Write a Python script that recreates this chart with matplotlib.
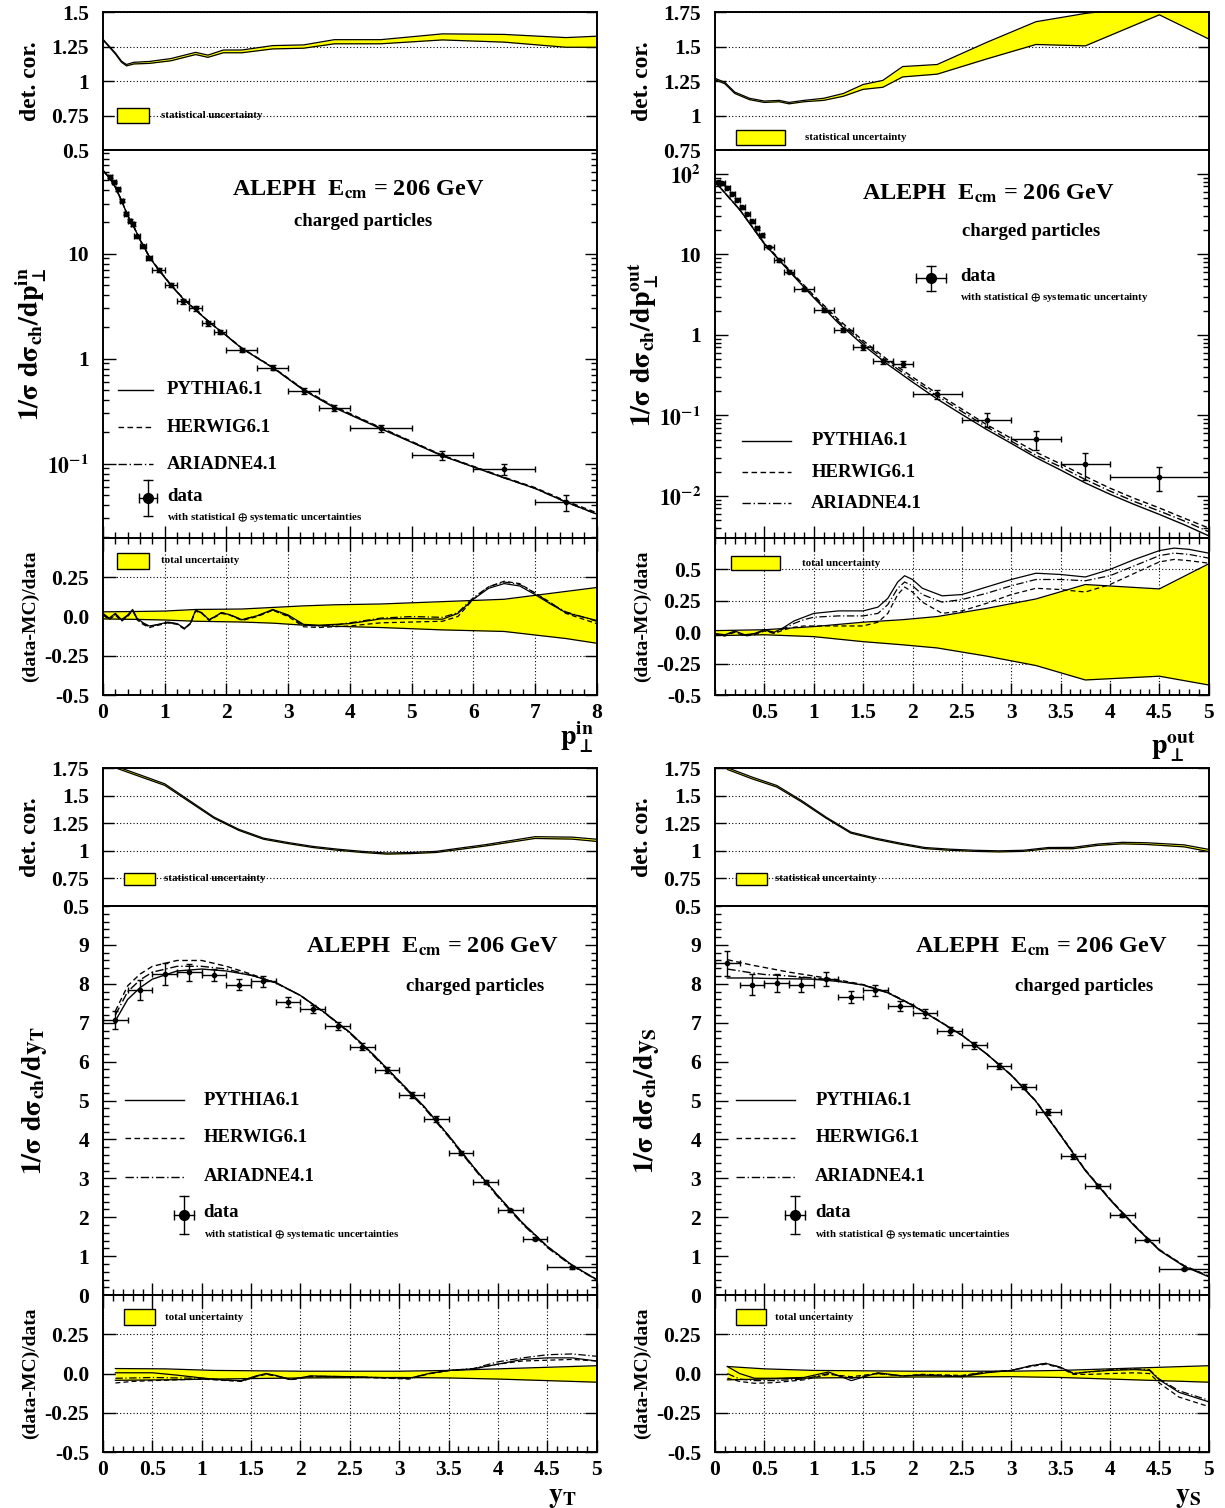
import numpy as np
import matplotlib
matplotlib.use("Agg")
import matplotlib.pyplot as plt
from matplotlib.patches import Rectangle
from matplotlib.ticker import MultipleLocator, LogLocator, NullFormatter

# ---------------- p_perp^in ----------------
pin_det_x = [0, 0.1, 0.2, 0.3, 0.38, 0.5, 0.75, 1.1, 1.5, 1.7, 1.95, 2.25, 2.75, 3.25, 3.75, 4.5, 5.5, 6.5, 7.5, 8.0]
pin_det_lo = [1.297, 1.247, 1.196, 1.136, 1.11, 1.124, 1.128, 1.147, 1.192, 1.172, 1.205, 1.205, 1.233, 1.238, 1.27, 1.27, 1.298, 1.282, 1.245, 1.245]
pin_det_hi = [1.303, 1.253, 1.204, 1.144, 1.12, 1.136, 1.142, 1.163, 1.208, 1.188, 1.225, 1.225, 1.257, 1.262, 1.30, 1.30, 1.342, 1.338, 1.315, 1.325]

pin_x = [0.11, 0.18, 0.24, 0.30, 0.37, 0.43, 0.48, 0.55, 0.65, 0.75, 0.9, 1.1, 1.3, 1.5, 1.7, 1.9, 2.25, 2.75, 3.25, 3.75, 4.5, 5.5, 6.5, 7.5]
pin_y = [54, 48, 41, 32, 24, 20.6, 19.2, 14.6, 11.7, 9.1, 7.0, 5.0, 3.5, 3.0, 2.16, 1.80, 1.21, 0.82, 0.49, 0.34, 0.216, 0.12, 0.088, 0.043]
pin_xerr = [0.03, 0.03, 0.03, 0.03, 0.03, 0.03, 0.03, 0.05, 0.05, 0.05, 0.1, 0.1, 0.1, 0.1, 0.1, 0.1, 0.25, 0.25, 0.25, 0.25, 0.5, 0.5, 0.5, 0.5]
pin_yerr = [1.5, 1.4, 1.2, 1.0, 0.8, 0.7, 0.7, 0.6, 0.5, 0.4, 0.3, 0.22, 0.16, 0.14, 0.1, 0.09, 0.06, 0.045, 0.03, 0.025, 0.016, 0.011, 0.01, 0.0075]

pin_mc_x = [0, 0.1, 0.2, 0.3, 0.4, 0.5, 0.6, 0.75, 0.9, 1.1, 1.3, 1.5, 1.75, 2.0, 2.25, 2.75, 3.25, 3.75, 4.5, 5.5, 6.5, 7.0, 7.5, 8.0]
pin_pythia = [62, 53, 43, 32, 23, 18, 13.5, 9.3, 7.0, 5.0, 3.7, 2.9, 2.15, 1.65, 1.25, 0.82, 0.50, 0.34, 0.215, 0.118, 0.073, 0.058, 0.043, 0.033]
pin_herwig = [62, 53, 43, 32, 23, 18, 13.6, 9.4, 7.1, 5.05, 3.75, 2.92, 2.16, 1.66, 1.26, 0.83, 0.51, 0.35, 0.22, 0.12, 0.074, 0.059, 0.044, 0.034]
pin_ariadne = [62, 53, 43, 32, 23, 18, 13.5, 9.35, 7.05, 5.02, 3.72, 2.91, 2.15, 1.65, 1.25, 0.82, 0.505, 0.345, 0.217, 0.119, 0.073, 0.058, 0.043, 0.033]

pin_band_x = [0, 0.5, 1, 1.5, 2.25, 2.75, 3.25, 3.75, 4.5, 5.5, 6.5, 7.5, 8]
pin_band_hi = [0.03, 0.032, 0.035, 0.045, 0.048, 0.058, 0.068, 0.075, 0.08, 0.095, 0.11, 0.16, 0.185]
pin_band_lo = [-0.015, -0.018, -0.022, -0.03, -0.035, -0.042, -0.055, -0.062, -0.07, -0.085, -0.095, -0.14, -0.17]

pin_r_x = [0, 0.1, 0.2, 0.3, 0.4, 0.48, 0.55, 0.65, 0.75, 0.9, 1.05, 1.2, 1.32, 1.42, 1.5, 1.6, 1.72, 1.92, 2.05, 2.25,
           2.5, 2.75, 3.0, 3.25, 3.5, 3.75, 4.0, 4.5, 5.0, 5.5, 5.75, 6.0, 6.25, 6.5, 6.75, 7.0, 7.25, 7.5, 8.0]
pin_r_pythia = [0.02, -0.01, 0.02, -0.02, 0.01, 0.045, -0.01, -0.04, -0.06, -0.05, -0.035, -0.045, -0.075, -0.04, 0.04, 0.025, -0.022, 0.025, 0.012, -0.02,
                0.005, 0.045, 0.01, -0.05, -0.055, -0.05, -0.045, -0.015, -0.012, -0.017, 0.02, 0.11, 0.18, 0.21, 0.195, 0.14, 0.08, 0.025, -0.025]
pin_r_herwig = [0.01, -0.02, 0.01, -0.03, 0.0, 0.04, -0.02, -0.05, -0.07, -0.055, -0.04, -0.05, -0.08, -0.045, 0.035, 0.02, -0.025, 0.02, 0.01, -0.025,
                0.0, 0.04, 0.0, -0.065, -0.07, -0.065, -0.06, -0.04, -0.035, -0.03, 0.0, 0.11, 0.19, 0.225, 0.21, 0.15, 0.09, 0.02, -0.045]
pin_r_ariadne = [0.015, -0.015, 0.015, -0.025, 0.005, 0.04, -0.015, -0.045, -0.065, -0.05, -0.04, -0.045, -0.078, -0.042, 0.04, 0.022, -0.02, 0.025, 0.012, -0.02,
                 0.005, 0.042, 0.005, -0.055, -0.06, -0.055, -0.04, -0.01, 0.0, -0.005, 0.025, 0.12, 0.19, 0.22, 0.205, 0.15, 0.085, 0.03, -0.03]

# ---------------- p_perp^out ----------------
pout_det_x = [0, 0.1, 0.2, 0.35, 0.5, 0.65, 0.75, 0.9, 1.1, 1.3, 1.5, 1.7, 1.9, 2.25, 2.75, 3.25, 3.75, 4.5, 5.0]
pout_det_lo = [1.26, 1.23, 1.16, 1.115, 1.095, 1.10, 1.085, 1.10, 1.11, 1.14, 1.19, 1.205, 1.28, 1.30, 1.41, 1.515, 1.505, 1.73, 1.555]
pout_det_hi = [1.27, 1.24, 1.17, 1.125, 1.105, 1.11, 1.095, 1.11, 1.125, 1.16, 1.225, 1.255, 1.355, 1.37, 1.53, 1.68, 1.74, 1.80, 1.85]

pout_x = [0.025, 0.075, 0.125, 0.175, 0.225, 0.275, 0.325, 0.375, 0.425, 0.475, 0.55, 0.65, 0.75, 0.9, 1.1, 1.3, 1.5, 1.7, 1.9, 2.25, 2.75, 3.25, 3.75, 4.5]
pout_y = [79, 76.7, 67.8, 56.7, 47.7, 38.4, 31.8, 25.8, 21.0, 17.2, 12.4, 8.5, 6.1, 3.7, 2.04, 1.15, 0.70, 0.47, 0.44, 0.183, 0.089, 0.051, 0.025, 0.0172]
pout_xerr = [0.025, 0.025, 0.025, 0.025, 0.025, 0.025, 0.025, 0.025, 0.025, 0.025, 0.05, 0.05, 0.05, 0.1, 0.1, 0.1, 0.1, 0.1, 0.1, 0.25, 0.25, 0.25, 0.25, 0.5]
pout_yerr = [3, 3, 2.7, 2.3, 1.9, 1.5, 1.3, 1.0, 0.85, 0.7, 0.5, 0.35, 0.25, 0.17, 0.1, 0.07, 0.045, 0.035, 0.035, 0.023, 0.017, 0.014, 0.009, 0.0057]

pout_mc_x = [0, 0.25, 0.5, 0.75, 1.0, 1.25, 1.5, 1.75, 2.0, 2.25, 2.5, 2.75, 3.0, 3.25, 3.5, 3.75, 4.0, 4.25, 4.5, 4.75, 5.0]
pout_pythia = [80, 36, 13.5, 6.2, 2.9, 1.4, 0.75, 0.43, 0.26, 0.16, 0.103, 0.067, 0.045, 0.030, 0.021, 0.0145, 0.0105, 0.0078, 0.0059, 0.0044, 0.0032]
pout_herwig = [80, 36, 13.8, 6.5, 3.1, 1.55, 0.85, 0.49, 0.30, 0.187, 0.12, 0.077, 0.052, 0.035, 0.025, 0.0175, 0.0125, 0.0093, 0.0071, 0.0053, 0.0040]
pout_ariadne = [80, 36, 13.6, 6.3, 3.0, 1.47, 0.80, 0.46, 0.28, 0.175, 0.112, 0.072, 0.048, 0.032, 0.023, 0.016, 0.0115, 0.0085, 0.0065, 0.0049, 0.0036]

pout_band_x = [0, 0.5, 1.0, 1.5, 1.9, 2.25, 2.75, 3.25, 3.75, 4.5, 5.0]
pout_band_hi = [0.013, 0.02, 0.045, 0.08, 0.1, 0.125, 0.19, 0.265, 0.38, 0.345, 0.545]
pout_band_lo = [-0.027, -0.02, -0.035, -0.075, -0.1, -0.125, -0.19, -0.265, -0.38, -0.35, -0.42]

pout_r_x = [0, 0.1, 0.2, 0.3, 0.4, 0.5, 0.6, 0.7, 0.8, 0.9, 1.0, 1.25, 1.5, 1.65, 1.75, 1.85, 1.92, 2.0, 2.1, 2.3,
            2.5, 2.75, 3.0, 3.25, 3.5, 3.75, 4.0, 4.25, 4.5, 4.65, 4.8, 5.0]
pout_r_pythia = [-0.01, -0.02, 0.01, -0.02, -0.01, 0.02, 0.0, 0.04, 0.09, 0.12, 0.15, 0.17, 0.17, 0.2, 0.27, 0.4, 0.45, 0.42, 0.35, 0.29,
                 0.30, 0.36, 0.42, 0.47, 0.46, 0.44, 0.5, 0.58, 0.65, 0.67, 0.66, 0.63]
pout_r_herwig = [-0.02, -0.03, 0.0, -0.03, -0.02, 0.01, -0.01, 0.02, 0.04, 0.05, 0.05, 0.05, 0.05, 0.08, 0.15, 0.3, 0.36, 0.32, 0.24, 0.15,
                 0.17, 0.23, 0.30, 0.35, 0.34, 0.32, 0.38, 0.47, 0.56, 0.58, 0.57, 0.55]
pout_r_ariadne = [-0.015, -0.025, 0.005, -0.025, -0.015, 0.015, -0.005, 0.03, 0.07, 0.10, 0.12, 0.13, 0.13, 0.15, 0.22, 0.35, 0.40, 0.37, 0.30, 0.24,
                  0.26, 0.31, 0.37, 0.42, 0.42, 0.41, 0.45, 0.53, 0.61, 0.63, 0.62, 0.59]

# ---------------- y_T and y_S ----------------
y_det_x = [0.125, 0.375, 0.625, 0.875, 1.125, 1.375, 1.625, 1.875, 2.125, 2.375, 2.625, 2.875, 3.125, 3.375, 3.625, 3.875, 4.125, 4.375, 4.75, 5.0]
yt_det = [1.76, 1.68, 1.60, 1.45, 1.30, 1.19, 1.11, 1.07, 1.035, 1.01, 0.99, 0.975, 0.98, 0.99, 1.02, 1.05, 1.085, 1.12, 1.115, 1.095]
ys_det = [1.745, 1.66, 1.585, 1.45, 1.30, 1.165, 1.11, 1.065, 1.025, 1.01, 1.0, 0.995, 1.0, 1.025, 1.025, 1.055, 1.07, 1.065, 1.045, 1.003]
y_det_err = [0.008, 0.008, 0.007, 0.006, 0.005, 0.005, 0.005, 0.005, 0.005, 0.005, 0.005, 0.005, 0.005, 0.005, 0.006, 0.006, 0.007, 0.008, 0.009, 0.01]

y_bins = [0.125, 0.375, 0.625, 0.875, 1.125, 1.375, 1.625, 1.875, 2.125, 2.375, 2.625, 2.875, 3.125, 3.375, 3.625, 3.875, 4.125, 4.375, 4.75]
y_xerr = [0.125, 0.125, 0.125, 0.125, 0.125, 0.125, 0.125, 0.125, 0.125, 0.125, 0.125, 0.125, 0.125, 0.125, 0.125, 0.125, 0.125, 0.125, 0.25]
yt_val = [7.07, 7.85, 8.26, 8.30, 8.23, 7.98, 8.06, 7.53, 7.35, 6.91, 6.38, 5.79, 5.14, 4.52, 3.65, 2.90, 2.18, 1.45, 0.71]
yt_err = [0.23, 0.26, 0.28, 0.22, 0.16, 0.15, 0.15, 0.13, 0.11, 0.1, 0.09, 0.08, 0.07, 0.07, 0.06, 0.05, 0.04, 0.03, 0.03]
ys_val = [8.53, 7.98, 8.02, 7.98, 8.12, 7.66, 7.83, 7.42, 7.24, 6.78, 6.42, 5.89, 5.36, 4.71, 3.57, 2.80, 2.05, 1.41, 0.67]
ys_err = [0.32, 0.26, 0.22, 0.2, 0.18, 0.15, 0.15, 0.13, 0.11, 0.1, 0.09, 0.08, 0.07, 0.07, 0.06, 0.05, 0.04, 0.03, 0.03]

y_mc_x = [0.125, 0.25, 0.375, 0.5, 0.75, 1.0, 1.25, 1.5, 1.75, 2.0, 2.25, 2.5, 2.75, 3.0, 3.25, 3.5, 3.75, 4.0, 4.25, 4.5, 4.75, 5.0]
yt_pythia = [7.05, 7.6, 7.9, 8.12, 8.33, 8.38, 8.33, 8.22, 8.03, 7.7, 7.25, 6.75, 6.15, 5.5, 4.85, 4.1, 3.3, 2.55, 1.85, 1.25, 0.77, 0.4]
yt_herwig = [7.3, 7.95, 8.25, 8.45, 8.6, 8.6, 8.45, 8.25, 8.02, 7.7, 7.25, 6.75, 6.15, 5.5, 4.85, 4.1, 3.3, 2.55, 1.85, 1.25, 0.77, 0.4]
yt_ariadne = [7.2, 7.8, 8.1, 8.3, 8.45, 8.45, 8.38, 8.22, 8.03, 7.7, 7.24, 6.73, 6.12, 5.47, 4.82, 4.07, 3.27, 2.52, 1.82, 1.22, 0.75, 0.39]
ys_pythia = [8.15, 8.15, 8.15, 8.14, 8.13, 8.12, 8.06, 7.97, 7.77, 7.45, 7.07, 6.68, 6.2, 5.65, 4.98, 4.1, 3.2, 2.45, 1.77, 1.15, 0.74, 0.47]
ys_herwig = [8.62, 8.55, 8.48, 8.42, 8.3, 8.2, 8.1, 7.98, 7.78, 7.46, 7.08, 6.68, 6.2, 5.66, 4.99, 4.12, 3.22, 2.47, 1.79, 1.17, 0.76, 0.49]
ys_ariadne = [8.38, 8.33, 8.28, 8.24, 8.2, 8.15, 8.08, 7.97, 7.77, 7.45, 7.07, 6.68, 6.2, 5.65, 4.98, 4.1, 3.21, 2.46, 1.78, 1.16, 0.75, 0.48]

yt_band_x = [0.125, 0.625, 1.125, 2.0, 3.0, 3.5, 4.0, 4.5, 5.0]
yt_band_hi = [0.032, 0.03, 0.02, 0.015, 0.015, 0.02, 0.03, 0.04, 0.05]
yt_band_lo = [-0.043, -0.04, -0.035, -0.028, -0.025, -0.028, -0.035, -0.045, -0.055]
ys_band_x = [0.125, 0.5, 1.0, 2.0, 3.0, 3.5, 4.0, 4.5, 5.0]
ys_band_hi = [0.045, 0.03, 0.02, 0.015, 0.015, 0.02, 0.03, 0.04, 0.05]
ys_band_lo = [-0.04, -0.035, -0.028, -0.022, -0.02, -0.025, -0.035, -0.045, -0.055]

yt_r_x = [0.125, 0.3, 0.5, 0.75, 1.0, 1.2, 1.4, 1.55, 1.65, 1.75, 1.9, 2.1, 2.5, 2.8, 3.1, 3.3, 3.5, 3.75, 4.0, 4.25, 4.5, 4.75, 5.0]
yt_r_pythia = [0.005, 0.005, 0.005, -0.01, -0.028, -0.04, -0.045, -0.015, 0.0, -0.012, -0.038, -0.015, -0.02, -0.025, -0.03, 0.0, 0.02, 0.03, 0.06, 0.09, 0.1, 0.1, 0.08]
yt_r_herwig = [-0.06, -0.05, -0.045, -0.04, -0.035, -0.043, -0.05, -0.02, -0.005, -0.015, -0.04, -0.02, -0.022, -0.028, -0.035, -0.002, 0.018, 0.03, 0.06, 0.08, 0.085, 0.09, 0.08]
yt_r_ariadne = [-0.03, -0.028, -0.025, -0.028, -0.03, -0.04, -0.048, -0.018, -0.002, -0.013, -0.038, -0.017, -0.02, -0.026, -0.032, 0.0, 0.02, 0.032, 0.075, 0.1, 0.12, 0.125, 0.11]

ys_r_x = [0.125, 0.25, 0.4, 0.6, 0.9, 1.15, 1.38, 1.65, 1.9, 2.1, 2.5, 2.75, 3.0, 3.2, 3.35, 3.5, 3.63, 3.8, 4.0, 4.25, 4.4, 4.5, 4.7, 5.0]
ys_r_pythia = [0.045, 0.0, -0.03, -0.03, -0.025, 0.01, -0.045, 0.005, -0.015, -0.01, -0.02, 0.005, 0.02, 0.05, 0.065, 0.04, 0.0, 0.012, 0.02, 0.025, 0.02, -0.04, -0.12, -0.18]
ys_r_herwig = [-0.03, -0.05, -0.062, -0.058, -0.04, -0.005, -0.02, 0.0, -0.015, -0.005, -0.012, 0.01, 0.02, 0.045, 0.06, 0.035, -0.005, -0.005, 0.0, 0.005, 0.0, -0.06, -0.15, -0.21]
ys_r_ariadne = [0.0, -0.035, -0.045, -0.045, -0.035, 0.0, -0.03, 0.0, -0.015, -0.008, -0.015, 0.01, 0.02, 0.05, 0.065, 0.04, 0.002, 0.01, 0.025, 0.03, 0.025, -0.035, -0.11, -0.17]

# ---------------- style ----------------
plt.rcParams['font.family'] = ['Liberation Serif', 'DejaVu Serif']
plt.rcParams['font.weight'] = 'bold'
plt.rcParams['axes.labelweight'] = 'bold'
plt.rcParams['mathtext.fontset'] = 'stix'
plt.rcParams['mathtext.default'] = 'bf'
plt.rcParams['axes.linewidth'] = 1.4

MODELS = [('PYTHIA6.1', '-'), ('HERWIG6.1', (0, (4, 2.5))), ('ARIADNE4.1', (0, (6, 2, 1, 2)))]
YELLOW = '#ffff00'
TLAB = 15.5
GRID = dict(ls=(0, (1, 2)), color='k', lw=0.8)
W = 0.403
PERP = r'\mathrm{\bot}'

fig = plt.figure(figsize=(12.25, 15.08), dpi=100)


def box_legend(ax, x0, x1, yc, h, tx, text):
    ax.add_patch(Rectangle((x0, yc - h / 2), x1 - x0, h, transform=ax.transAxes,
                           fc=YELLOW, ec='k', lw=1, zorder=6))
    ax.text(tx, yc, text, transform=ax.transAxes, va='center', ha='left', fontsize=7.8, zorder=6)


def det_panel(ax, x, lo, hi, xlim, yticks, ylabels, leg):
    ax.fill_between(x, lo, hi, color=YELLOW, lw=0, zorder=2)
    ax.plot(x, lo, color='k', lw=0.9, zorder=3)
    ax.plot(x, hi, color='k', lw=0.9, zorder=3)
    ax.set_xlim(xlim)
    ax.set_ylim(yticks[0], yticks[-1])
    ax.set_yticks(yticks)
    ax.set_yticklabels(ylabels)
    ax.tick_params(axis='y', direction='in', left=True, right=True, length=8, width=1, labelsize=TLAB, pad=10)
    ax.tick_params(axis='x', bottom=False, labelbottom=False)
    ax.grid(axis='y', **GRID)
    ax.set_ylabel('det. cor.', fontsize=17)
    ax.yaxis.set_label_coords(-0.125, 0.5)
    box_legend(ax, *leg, 'statistical uncertainty')


def main_panel(ax, mc_x, mcs, dx, dy, dxe, dye, xlim, ylim, xmaj, xmin):
    for (name, ls), y in zip(MODELS, mcs):
        ax.plot(mc_x, y, color='k', lw=1, ls=ls, zorder=3)
    ax.errorbar(dx, dy, xerr=dxe, yerr=dye, fmt='o', color='k', ms=3, lw=1,
                capsize=2.5, capthick=1, zorder=5)
    ax.set_xlim(xlim)
    ax.set_ylim(ylim)
    ax.xaxis.set_major_locator(MultipleLocator(xmaj))
    ax.xaxis.set_minor_locator(MultipleLocator(xmin))
    ax.tick_params(axis='x', which='both', direction='in', bottom=True, top=False, labelbottom=False)
    ax.tick_params(axis='y', which='both', direction='in', left=True, right=True, labelsize=TLAB, pad=10)
    ax.tick_params(which='major', length=9, width=1)
    ax.tick_params(which='minor', length=4.5, width=1)


def mc_legend(ax, x0, x1, tx, ys):
    for (name, ls), y in zip(MODELS, ys):
        ax.plot([x0, x1], [y, y], color='k', lw=1, ls=ls, transform=ax.transAxes)
        ax.text(tx, y, name, transform=ax.transAxes, va='center', ha='left', fontsize=13.5)


def data_legend(ax, xm, ym, dx, dy, tx, sub):
    T = ax.transAxes
    ax.plot([xm, xm], [ym - dy, ym + dy], color='k', lw=1, transform=T)
    ax.plot([xm - dx, xm + dx], [ym, ym], color='k', lw=1, transform=T)
    ax.plot([xm, xm], [ym - dy, ym + dy], ls='none', marker='_', ms=7, mew=1, color='k', transform=T)
    ax.plot([xm - dx, xm + dx], [ym, ym], ls='none', marker='|', ms=7, mew=1, color='k', transform=T)
    ax.plot([xm], [ym], 'o', color='k', ms=7, transform=T)
    ax.text(tx, ym + 0.005, 'data', transform=T, va='center', ha='left', fontsize=13.5)
    ax.text(tx, ym - 0.05, sub, transform=T, va='center', ha='left', fontsize=7.8)


def ratio_panel(ax, bx, blo, bhi, rx, rs, xlim, ylim, yticks, ylabels, xticks, xmin, leg):
    ax.fill_between(bx, blo, bhi, color=YELLOW, lw=0, zorder=2)
    ax.plot(bx, blo, color='k', lw=0.9, zorder=3)
    ax.plot(bx, bhi, color='k', lw=0.9, zorder=3)
    for (name, ls), r in zip(MODELS, rs):
        ax.plot(rx, r, color='k', lw=0.9, ls=ls, zorder=4)
    ax.set_xlim(xlim)
    ax.set_ylim(ylim)
    ax.set_yticks(yticks)
    ax.set_yticklabels(ylabels)
    ax.set_xticks(xticks)
    ax.set_xticklabels(['%g' % v for v in xticks])
    ax.xaxis.set_minor_locator(MultipleLocator(xmin))
    ax.tick_params(axis='x', which='both', direction='in', top=True, bottom=True, labelsize=TLAB, pad=6)
    ax.tick_params(axis='y', which='both', direction='in', left=True, right=True, labelsize=TLAB, pad=10)
    ax.tick_params(which='major', length=9, width=1)
    ax.tick_params(which='minor', length=4.5, width=1)
    ax.grid(True, which='major', **GRID)
    ax.set_ylabel('(data-MC)/data', fontsize=14)
    ax.yaxis.set_label_coords(-0.13, 0.5)
    box_legend(ax, *leg, 'total uncertainty')


def aleph(ax, xa, ya, xc, yc):
    ax.text(xa, ya, r'ALEPH  E$_{cm}$ = 206 GeV', transform=ax.transAxes, ha='center', va='center', fontsize=17.5)
    ax.text(xc, yc, 'charged particles', transform=ax.transAxes, ha='center', va='center', fontsize=13.5)


SUB_S = r'with statistical $\oplus$ systematic uncertainties'
SUB_1 = r'with statistical $\oplus$ systematic uncertainty'

# ======== top-left: p_perp in ========
x0 = 0.0841
a_det = fig.add_axes([x0, 0.9005, W, 0.0915])
a_main = fig.add_axes([x0, 0.6432, W, 0.2573])
a_rat = fig.add_axes([x0, 0.5391, W, 0.1041])
det_panel(a_det, pin_det_x, pin_det_lo, pin_det_hi, (0, 8), [0.5, 0.75, 1, 1.25, 1.5],
          ['0.5', '0.75', '1', '1.25', '1.5'], (0.028, 0.093, 0.25, 0.105, 0.117))
a_main.set_yscale('log')
main_panel(a_main, pin_mc_x, [pin_pythia, pin_herwig, pin_ariadne], pin_x, pin_y, pin_xerr, pin_yerr,
           (0, 8), (0.0195, 97), 1, 0.2)
a_main.set_yticks([0.1, 1, 10])
a_main.set_yticklabels([r'$10^{-1}$', '1', '10'])
a_main.yaxis.set_minor_locator(LogLocator(base=10, subs=np.arange(2, 10) * 1.0, numticks=20))
a_main.yaxis.set_minor_formatter(NullFormatter())
a_main.set_ylabel(r'$1/\sigma\ d\sigma_{ch}/dp_{%s}^{in}$' % PERP, fontsize=20)
a_main.yaxis.set_label_coords(-0.11, 0.5)
aleph(a_main, 0.516, 0.897, 0.526, 0.815)
mc_legend(a_main, 0.03, 0.101, 0.13, [0.382, 0.285, 0.19])
data_legend(a_main, 0.091, 0.103, 0.018, 0.046, 0.13, SUB_S)
ratio_panel(a_rat, pin_band_x, pin_band_lo, pin_band_hi, pin_r_x, [pin_r_pythia, pin_r_herwig, pin_r_ariadne],
            (0, 8), (-0.5, 0.5), [-0.5, -0.25, 0, 0.25], ['-0.5', '-0.25', '0.0', '0.25'],
            list(range(0, 9)), 0.2, (0.028, 0.093, 0.854, 0.1, 0.117))
a_rat.text(0.995, -0.27, r'$p_{%s}^{in}$' % PERP, transform=a_rat.transAxes, ha='right', va='center', fontsize=20)

# ======== top-right: p_perp out ========
x0 = 0.5837
b_det = fig.add_axes([x0, 0.9005, W, 0.0915])
b_main = fig.add_axes([x0, 0.6432, W, 0.2573])
b_rat = fig.add_axes([x0, 0.5391, W, 0.1041])
det_panel(b_det, pout_det_x, pout_det_lo, pout_det_hi, (0, 5), [0.75, 1, 1.25, 1.5, 1.75],
          ['0.75', '1', '1.25', '1.5', '1.75'], (0.043, 0.142, 0.09, 0.105, 0.183))
b_main.set_yscale('log')
main_panel(b_main, pout_mc_x, [pout_pythia, pout_herwig, pout_ariadne], pout_x, pout_y, pout_xerr, pout_yerr,
           (0, 5), (0.003, 198), 0.5, 0.1)
b_main.set_yticks([0.01, 0.1, 1, 10, 100])
b_main.set_yticklabels([r'$10^{-2}$', r'$10^{-1}$', '1', '10', r'$10^{2}$'])
b_main.yaxis.set_minor_locator(LogLocator(base=10, subs=np.arange(2, 10) * 1.0, numticks=20))
b_main.yaxis.set_minor_formatter(NullFormatter())
b_main.set_ylabel(r'$1/\sigma\ d\sigma_{ch}/dp_{%s}^{out}$' % PERP, fontsize=20)
b_main.yaxis.set_label_coords(-0.11, 0.5)
aleph(b_main, 0.554, 0.888, 0.641, 0.79)
mc_legend(b_main, 0.055, 0.154, 0.195, [0.251, 0.17, 0.09])
data_legend(b_main, 0.438, 0.669, 0.03, 0.031, 0.497, SUB_1)
ratio_panel(b_rat, pout_band_x, pout_band_lo, pout_band_hi, pout_r_x, [pout_r_pythia, pout_r_herwig, pout_r_ariadne],
            (0, 5), (-0.5, 0.75), [-0.5, -0.25, 0, 0.25, 0.5], ['-0.5', '-0.25', '0.0', '0.25', '0.5'],
            [0.5, 1, 1.5, 2, 2.5, 3, 3.5, 4, 4.5, 5], 0.1, (0.032, 0.132, 0.84, 0.09, 0.176))
b_rat.text(0.975, -0.33, r'$p_{%s}^{out}$' % PERP, transform=b_rat.transAxes, ha='right', va='center', fontsize=20)

# ======== bottom-left: y_T ========
x0 = 0.0841
c_det = fig.add_axes([x0, 0.3992, W, 0.0915])
c_main = fig.add_axes([x0, 0.1412, W, 0.258])
c_rat = fig.add_axes([x0, 0.0371, W, 0.1041])
det_panel(c_det, y_det_x, np.subtract(yt_det, y_det_err), np.add(yt_det, y_det_err), (0, 5),
          [0.5, 0.75, 1, 1.25, 1.5, 1.75], ['0.5', '0.75', '1', '1.25', '1.5', '1.75'],
          (0.043, 0.105, 0.196, 0.087, 0.124))
main_panel(c_main, y_mc_x, [yt_pythia, yt_herwig, yt_ariadne], y_bins, yt_val, y_xerr, yt_err,
           (0, 5), (0, 10), 0.5, 0.1)
c_main.set_yticks(range(0, 10))
c_main.yaxis.set_minor_locator(MultipleLocator(0.2))
c_main.set_ylabel(r'$1/\sigma\ d\sigma_{ch}/dy_{T}$', fontsize=20)
c_main.yaxis.set_label_coords(-0.11, 0.5)
aleph(c_main, 0.666, 0.895, 0.754, 0.794)
mc_legend(c_main, 0.045, 0.164, 0.204, [0.501, 0.404, 0.304])
data_legend(c_main, 0.164, 0.206, 0.02, 0.049, 0.204, SUB_S)
ratio_panel(c_rat, yt_band_x, yt_band_lo, yt_band_hi, yt_r_x, [yt_r_pythia, yt_r_herwig, yt_r_ariadne],
            (0, 5), (-0.5, 0.5), [-0.5, -0.25, 0, 0.25], ['-0.5', '-0.25', '0.0', '0.25'],
            [0, 0.5, 1, 1.5, 2, 2.5, 3, 3.5, 4, 4.5, 5], 0.1, (0.043, 0.105, 0.86, 0.1, 0.125))
c_rat.text(0.96, -0.29, r'$y_{T}$', transform=c_rat.transAxes, ha='right', va='center', fontsize=20)

# ======== bottom-right: y_S ========
x0 = 0.5837
d_det = fig.add_axes([x0, 0.3992, W, 0.0915])
d_main = fig.add_axes([x0, 0.1412, W, 0.258])
d_rat = fig.add_axes([x0, 0.0371, W, 0.1041])
det_panel(d_det, y_det_x, np.subtract(ys_det, y_det_err), np.add(ys_det, y_det_err), (0, 5),
          [0.5, 0.75, 1, 1.25, 1.5, 1.75], ['0.5', '0.75', '1', '1.25', '1.5', '1.75'],
          (0.043, 0.106, 0.196, 0.087, 0.122))
main_panel(d_main, y_mc_x, [ys_pythia, ys_herwig, ys_ariadne], y_bins, ys_val, y_xerr, ys_err,
           (0, 5), (0, 10), 0.5, 0.1)
d_main.set_yticks(range(0, 10))
d_main.yaxis.set_minor_locator(MultipleLocator(0.2))
d_main.set_ylabel(r'$1/\sigma\ d\sigma_{ch}/dy_{S}$', fontsize=20)
d_main.yaxis.set_label_coords(-0.11, 0.5)
aleph(d_main, 0.661, 0.895, 0.747, 0.794)
mc_legend(d_main, 0.043, 0.162, 0.203, [0.501, 0.404, 0.304])
data_legend(d_main, 0.162, 0.206, 0.02, 0.049, 0.203, SUB_S)
ratio_panel(d_rat, ys_band_x, ys_band_lo, ys_band_hi, ys_r_x, [ys_r_pythia, ys_r_herwig, ys_r_ariadne],
            (0, 5), (-0.5, 0.5), [-0.5, -0.25, 0, 0.25], ['-0.5', '-0.25', '0.0', '0.25'],
            [0, 0.5, 1, 1.5, 2, 2.5, 3, 3.5, 4, 4.5, 5], 0.1, (0.043, 0.104, 0.86, 0.1, 0.122))
d_rat.text(0.985, -0.29, r'$y_{S}$', transform=d_rat.transAxes, ha='right', va='center', fontsize=20)

fig.savefig('out.png', dpi=100, facecolor='white')
